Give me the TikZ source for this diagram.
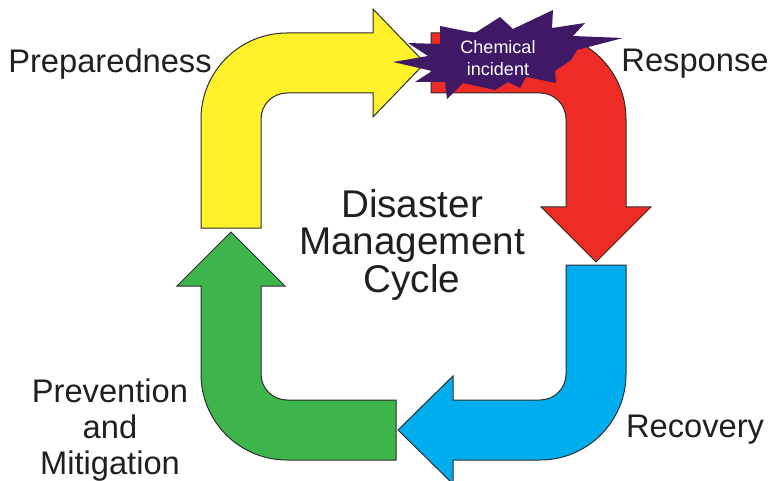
\documentclass[tikz,border=0pt]{standalone}
\usepackage{fontspec}
\setmainfont{Liberation Sans}
\definecolor{prepyellow}{HTML}{FFF22A}
\definecolor{respred}{HTML}{EE2B24}
\definecolor{recblue}{HTML}{00AEEF}
\definecolor{prevgreen}{HTML}{3DB54A}
\definecolor{burst}{HTML}{3F1866}
\definecolor{ink}{HTML}{231F20}
\definecolor{rim}{HTML}{2E2E2E}
\begin{document}
\begin{tikzpicture}[x=0.75pt, y=-0.75pt,
		band/.style={draw=rim, line width=0.75pt},
		phase/.style={font=\fontsize{24.5}{27}\selectfont, text=ink, align=center},
		title/.style={font=\fontsize{29}{28}\selectfont, text=ink, align=center}]
		\useasboundingbox (0,0) rectangle (771,481);
		% Bent arrows
		\draw[band, fill=prepyellow] (201,228) -- (201,119) arc[start angle=180, end angle=270, radius=86] -- (373,33) -- (373,9) -- (425,63) -- (373,117) -- (373,93) -- (287,93) arc[start angle=270, end angle=180, radius=26] -- (261,228) -- cycle;
		\draw[band, fill=respred] (431,33) -- (540,33) arc[start angle=270, end angle=360, radius=86] -- (626,207) -- (651,207) -- (596,262) -- (541,207) -- (566,207) -- (566,119) arc[start angle=0, end angle=-90, radius=26] -- (431,93) -- cycle;
		\draw[band, fill=recblue] (566,265) -- (626,265) -- (626,374) arc[start angle=0, end angle=90, radius=86] -- (453,460) -- (453,484) -- (398,430) -- (453,376) -- (453,400) -- (540,400) arc[start angle=90, end angle=0, radius=26] -- cycle;
		\draw[band, fill=prevgreen] (396,400) -- (396,460) -- (287,460) arc[start angle=90, end angle=180, radius=86] -- (201,286) -- (177,286) -- (231,232) -- (285,286) -- (261,286) -- (261,374) arc[start angle=180, end angle=90, radius=26] -- cycle;
		% Starburst
		\fill[burst] (393,62) -- (428,56) -- (408,43) -- (440,44) -- (440,26) -- (475,33) -- (500,17) -- (513,29) -- (553,10) -- (552,28) -- (585,23) -- (573,36) -- (623,38) -- (577,50) -- (571,60) -- (555,71) -- (556,83) -- (526,77) -- (520,88) -- (508,82) -- (495,90) -- (463,83) -- (447,99) -- (445,82) -- (415,82) -- (432,71) -- cycle;
		\node[font=\fontsize{13.5}{16}\selectfont, text=white, align=center] (incident) at (498,58) {Chemical\\incident};
		% Labels
		\node[phase, anchor=base] (prep) at (110,73) {Preparedness};
		\node[phase, anchor=base] (resp) at (695,72) {Response};
		\node[phase, anchor=base] (recov) at (695,437) {Recovery};
		\node[phase] (prev) at (110,430) {Prevention\\and\\Mitigation};
		\node[title] (cycle) at (412,245) {Disaster\\Management\\Cycle};
	\end{tikzpicture}
\end{document}
